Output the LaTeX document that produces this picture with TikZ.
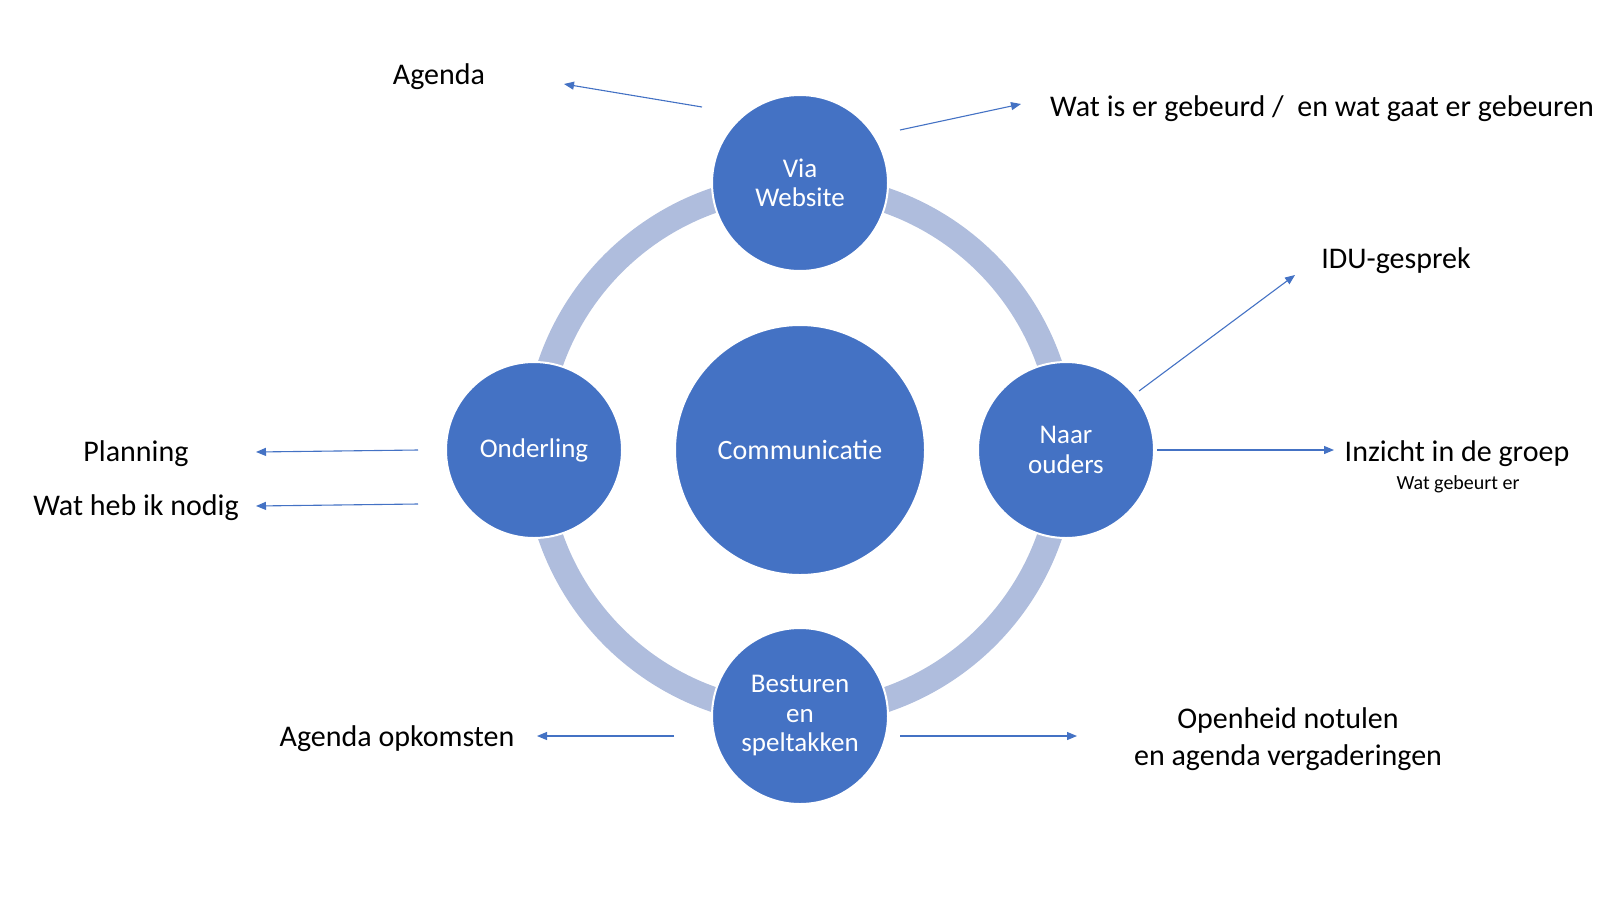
\documentclass[tikz,border=0pt]{standalone}
\usepackage{fontspec}
\setmainfont{Carlito}
\usetikzlibrary{arrows.meta}
\definecolor{acc}{RGB}{68,114,196}
\definecolor{ringc}{RGB}{175,189,221}
\tikzset{
 bigc/.style={circle,fill=acc,draw=white,line width=2pt,minimum size=250pt,inner sep=0pt,text=white,font=\fontsize{28}{32}\selectfont},
 smallc/.style={circle,fill=acc,draw=white,line width=2pt,minimum size=176pt,inner sep=0pt,text=white,align=center,font=\fontsize{27}{29.5}\selectfont},
 lbl/.style={text=black,font=\fontsize{30}{37}\selectfont,inner sep=0pt,align=center},
 sublbl/.style={text=black,font=\fontsize{20}{22}\selectfont,inner sep=0pt},
 conn/.style={draw=acc,line width=1.1pt,-{Triangle[length=10pt,width=8pt]}},
}
\begin{document}
\begin{tikzpicture}[x=1pt,y=-1pt]
\useasboundingbox (0,0) rectangle (1600,900);
\draw[ringc,line width=25pt] (800,450) circle[radius=264pt];
\node[bigc] (comm) at (800,450) {Communicatie};
\node[smallc] (web) at (800,183) {Via\\Website};
\node[smallc] (ouders) at (1066,450) {Naar\\ouders};
\node[smallc] (onder) at (534,450) {Onderling};
\node[smallc] (best) at (800,716) {Besturen\\en\\speltakken};

\node[lbl] (agenda) at (439,77) {Agenda};
\node[lbl,anchor=west] (wat) at (1050,109) {Wat is er gebeurd /\ \ en wat gaat er gebeuren};
\node[lbl] (idu) at (1396,261) {IDU-gesprek};
\node[lbl] (inzicht) at (1457,454) {Inzicht in de groep};
\node[sublbl] (gebeurt) at (1458,484) {Wat gebeurt er};
\node[lbl] (plan) at (136,454) {Planning};
\node[lbl] (nodig) at (136,508) {Wat heb ik nodig};
\node[lbl] (opk) at (397,739) {Agenda opkomsten};
\node[lbl] (open) at (1288,739) {Openheid notulen\\en agenda vergaderingen};

\coordinate (a1s) at (702,107); \coordinate (a1e) at (564,84);
\coordinate (a2s) at (900,130); \coordinate (a2e) at (1021,104);
\coordinate (a3s) at (1139,391); \coordinate (a3e) at (1295,275);
\coordinate (a4s) at (1157,450); \coordinate (a4e) at (1334,450);
\coordinate (a5s) at (418,450); \coordinate (a5e) at (256,452);
\coordinate (a6s) at (418,504); \coordinate (a6e) at (256,506);
\coordinate (a7s) at (674,736); \coordinate (a7e) at (537,736);
\coordinate (a8s) at (900,736); \coordinate (a8e) at (1077,736);
\foreach \i in {1,...,8} { \draw[conn] (a\i s) -- (a\i e); }
\end{tikzpicture}
\end{document}
